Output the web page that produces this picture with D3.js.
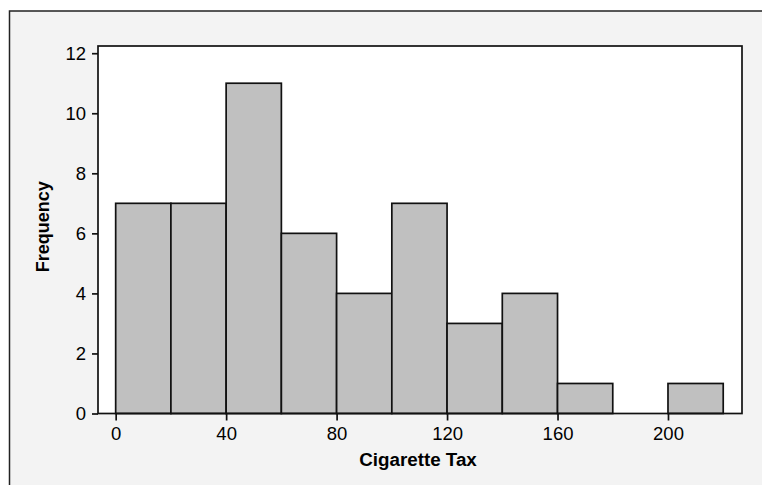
<!DOCTYPE html>
<html>
<head>
<meta charset="utf-8">
<script src="https://cdn.jsdelivr.net/npm/d3@7"></script>
<style>
  html, body { margin: 0; padding: 0; background: #fff; }
  svg { display: block; }
  text { font-family: "Liberation Sans", Arial, sans-serif; fill: #000; }
</style>
</head>
<body>
<svg id="chart" width="762" height="485"></svg>
<script>
// Data
const binEdges = [0, 20, 40, 60, 80, 100, 120, 140, 160, 180, 200, 220];
const counts = [7, 7, 11, 6, 4, 7, 3, 4, 1, 0, 1];
const xTicks = [0, 40, 80, 120, 160, 200];
const yTicks = [0, 2, 4, 6, 8, 10, 12];
const xLabel = "Cigarette Tax";
const yLabel = "Frequency";

const svg = d3.select("#chart");
const W = 762, H = 485;

// Outer frame
svg.append("rect")
  .attr("x", 9.5).attr("y", 11).attr("width", W + 10).attr("height", H + 10)
  .attr("fill", "#f3f3f3").attr("stroke", "#222").attr("stroke-width", 1.5);

const plot = { left: 98, right: 742, top: 46, bottom: 413.5 };

const x = d3.scaleLinear().domain([-6.4, 226.8]).range([plot.left, plot.right]);
const y = d3.scaleLinear().domain([0, 12.24]).range([plot.bottom, plot.top]);

// Plot area background
svg.append("rect")
  .attr("x", plot.left).attr("y", plot.top)
  .attr("width", plot.right - plot.left).attr("height", plot.bottom - plot.top)
  .attr("fill", "#fff");

// Bars
const bins = counts.map((c, i) => ({ x0: binEdges[i], x1: binEdges[i + 1], c }));
svg.append("g").selectAll("rect")
  .data(bins.filter(d => d.c > 0))
  .join("rect")
  .attr("x", d => x(d.x0))
  .attr("y", d => y(d.c))
  .attr("width", d => x(d.x1) - x(d.x0))
  .attr("height", d => y(0) - y(d.c))
  .attr("fill", "#c0c0c0")
  .attr("stroke", "#111")
  .attr("stroke-width", 1.7);

// Plot border
svg.append("rect")
  .attr("x", plot.left).attr("y", plot.top)
  .attr("width", plot.right - plot.left).attr("height", plot.bottom - plot.top)
  .attr("fill", "none").attr("stroke", "#111").attr("stroke-width", 1.7);

// Axes
const xAxis = svg.append("g")
  .attr("transform", `translate(0,${plot.bottom})`)
  .call(d3.axisBottom(x).tickValues(xTicks).tickSize(7).tickSizeOuter(0).tickPadding(6));
xAxis.select(".domain").remove();
xAxis.selectAll("line").attr("stroke", "#111").attr("stroke-width", 1.7);
xAxis.selectAll("text").attr("font-size", 18.5).attr("font-family", "Liberation Sans, Arial, sans-serif").attr("fill", "#000");

const yAxis = svg.append("g")
  .attr("transform", `translate(${plot.left},0)`)
  .call(d3.axisLeft(y).tickValues(yTicks).tickSize(6).tickSizeOuter(0).tickPadding(6));
yAxis.select(".domain").remove();
yAxis.selectAll("line").attr("stroke", "#111").attr("stroke-width", 1.7);
yAxis.selectAll("text").attr("font-size", 18.5).attr("font-family", "Liberation Sans, Arial, sans-serif").attr("fill", "#000");

// Axis titles
svg.append("text")
  .attr("x", (plot.left + plot.right) / 2 - 2)
  .attr("y", 466)
  .attr("text-anchor", "middle")
  .attr("font-size", 18.8).attr("font-weight", "bold")
  .text(xLabel);

svg.append("text")
  .attr("transform", `translate(49,${(plot.top + plot.bottom) / 2 - 3}) rotate(-90)`)
  .attr("text-anchor", "middle")
  .attr("font-size", 18).attr("font-weight", "bold")
  .text(yLabel);
</script>
</body>
</html>
